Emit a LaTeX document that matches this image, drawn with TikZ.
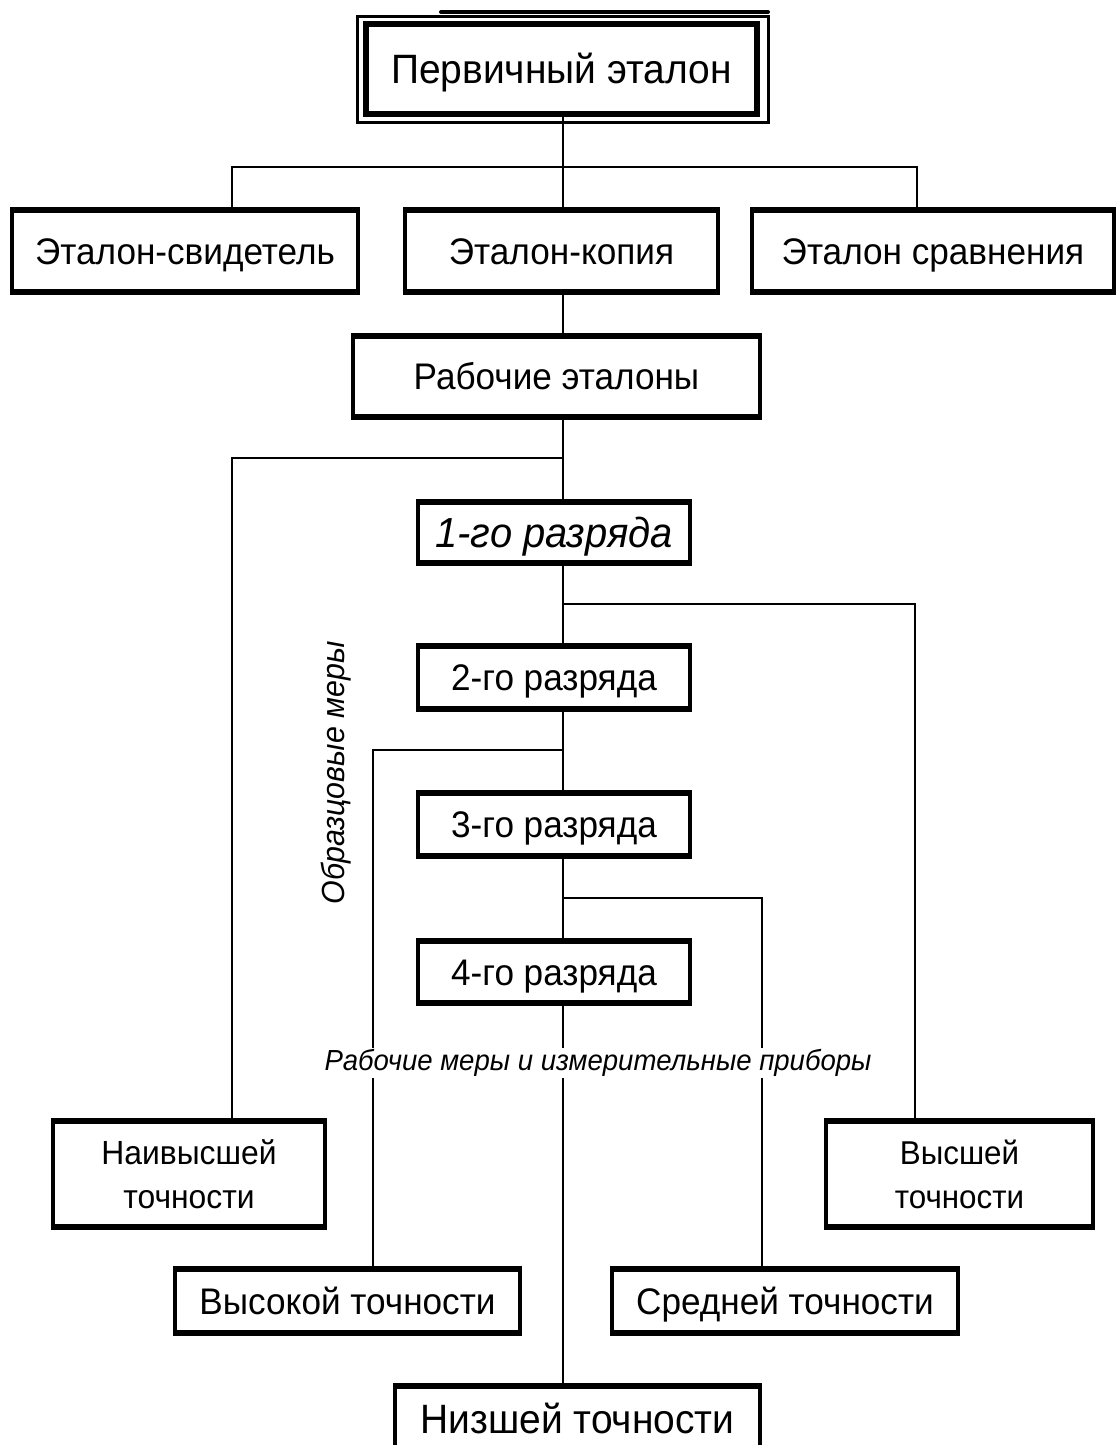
\documentclass[tikz,border=0pt]{standalone}
\usepackage{fontspec}
\setmainfont{Liberation Sans}[FakeStretch=0.95]
\newcommand\myboxdraw[7][]{%
  \node[boxtext, #1, minimum width={#5-#3}, minimum height={#6-#4}] (#2) at ({(#3+#5)/2},{(#4+#6)/2}) {#7};
  \draw[sideline] (#2.north west) rectangle (#2.south east);
  \draw[capline] ([xshift=-1.5pt]#2.north west) -- ([xshift=1.5pt]#2.north east);
  \draw[capline] ([xshift=-1.5pt]#2.south west) -- ([xshift=1.5pt]#2.south east);
}
\begin{document}
\begin{tikzpicture}[x=1pt,y=-1pt,
  boxtext/.style={draw=none, inner sep=0pt, align=center, font=\fontsize{37}{44}\selectfont},
  oneline/.style={text height=#1, text depth=0pt},
  oneline/.default=26.5pt,
  sideline/.style={line width=4pt},
  capline/.style={line width=6.5pt},
  conn/.style={line width=2.8pt},
  lbl/.style={inner sep=1pt}]
\useasboundingbox (0,0) rectangle (1117,1445);
\fill[white] (0,0) rectangle (1117,1445);

% primary standard, double frame
\node[boxtext, oneline=29.4pt, font=\fontsize{41}{48}\selectfont, minimum width=391, minimum height=90] (prim) at (561.5,69) {Первичный эталон};
\draw[line width=3pt] (357,17) rectangle (768,122);
\draw[line width=6.5pt] (prim.north west) rectangle (prim.south east);
\draw[line width=4pt, line cap=round] (441,12) -- (768,12);

\myboxdraw[oneline]{svid}{12}{210}{358}{292}{Эталон-свидетель}
\myboxdraw[oneline]{kop}{405}{210}{718}{292}{Эталон-копия}
\myboxdraw[oneline]{srav}{752}{210}{1114}{292}{Эталон сравнения}
\myboxdraw[oneline]{rab}{353}{336}{760}{417}{Рабочие эталоны}
\myboxdraw[oneline=30pt, font=\itshape\fontsize{42}{48}\selectfont]{r1}{418}{502}{690}{563}{1-го разряда}
\myboxdraw[oneline]{r2}{418}{646}{690}{709}{2-го разряда}
\myboxdraw[oneline]{r3}{418}{793}{690}{856}{3-го разряда}
\myboxdraw[oneline]{r4}{418}{941}{690}{1003}{4-го разряда}
\myboxdraw[font=\fontsize{33.5}{40}\selectfont]{naiv}{53}{1121}{325}{1227}{Наивысшей\\[4pt]точности}
\myboxdraw[font=\fontsize{33}{40}\selectfont]{vyssh}{826}{1121}{1093}{1227}{Высшей\\[4pt]точности}
\myboxdraw[oneline]{vysok}{175}{1269}{520}{1333}{Высокой точности}
\myboxdraw[oneline]{sred}{612}{1269}{958}{1333}{Средней точности}
\myboxdraw[oneline=29.4pt, font=\fontsize{41}{48}\selectfont]{nizsh}{395}{1386}{760}{1452}{Низшей точности}

% connectors
\coordinate (t1) at (563,167);
\draw[conn] (prim.south -| t1) -- (t1);
\draw[conn] (svid.north -| 232,0) |- (t1) -| (srav.north -| 917,0);
\draw[conn] (t1) -- (kop.north -| t1);
\draw[conn] (kop.south -| t1) -- (rab.north -| t1);

\coordinate (t2) at (563,458);
\draw[conn] (rab.south -| t2) -- (r1.north -| t2);
\draw[conn] (t2) -| (naiv.north -| 232,0);

\coordinate (t3) at (563,604);
\draw[conn] (r1.south -| t3) -- (r2.north -| t3);
\draw[conn] (t3) -| (vyssh.north -| 915,0);

\coordinate (t4) at (563,750);
\draw[conn] (r2.south -| t4) -- (r3.north -| t4);
\draw[conn] (t4) -| (vysok.north -| 373,0);

\coordinate (t5) at (563,898);
\draw[conn] (r3.south -| t5) -- (r4.north -| t5);
\draw[conn] (t5) -| (sred.north -| 762,0);

\draw[conn] (r4.south -| t5) -- (nizsh.north -| t5);

% labels
\node[lbl, fill=white, font=\itshape\fontsize{29}{34}\selectfont] (lab1) at (598,1063) {Рабочие меры и измерительные приборы};
\node[lbl, rotate=90, font=\itshape\fontsize{32}{38}\selectfont] (lab2) at (336,773) {Образцовые меры};
\end{tikzpicture}
\end{document}
